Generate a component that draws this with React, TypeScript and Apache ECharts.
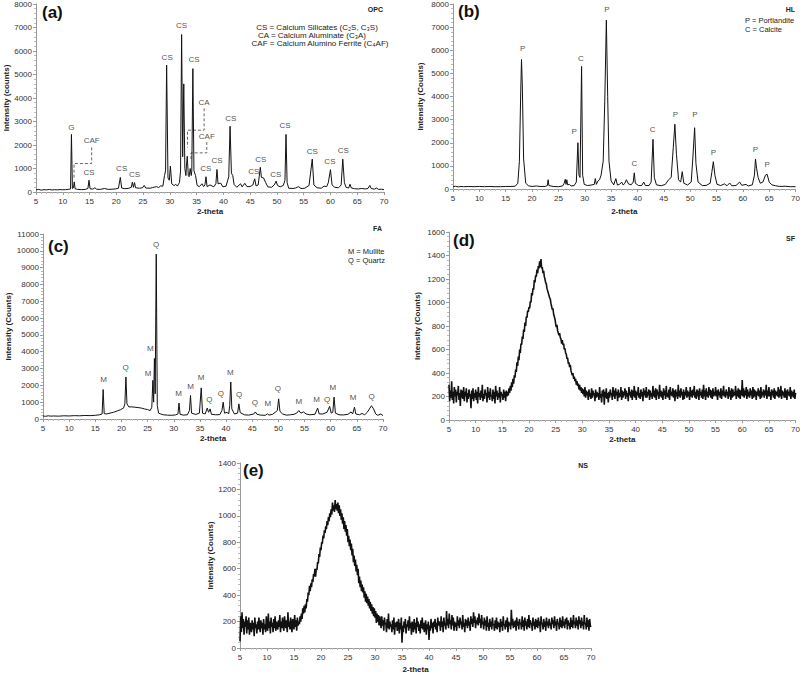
import React, { useEffect, useRef } from 'react';
import * as echarts from 'echarts';

const FONT = '"Liberation Sans", Arial, sans-serif';

// ---------- (a) OPC : [2-theta, counts]
const opcPoints: number[][] = [
  [5,90],[5.5,110],[6,80],[6.5,100],[7,90],[7.5,110],[8,85],[8.5,100],[9,90],[9.5,105],[10,95],[10.5,100],[11,110],[11.45,130],[11.62,2450],[11.8,150],[12.0,180],[12.15,430],[12.3,140],[12.8,110],[13.5,100],[14.2,110],[14.7,150],[14.9,500],[15.1,140],[15.6,120],[16.0,180],[16.3,120],[17,110],[17.8,150],[18.5,110],[19.2,120],[19.8,130],[20.4,160],[20.75,620],[21.0,170],[21.6,140],[22.2,150],[22.8,200],[23.0,420],[23.2,200],[23.4,400],[23.6,180],[24.3,160],[24.9,180],[25.2,280],[25.5,170],[26.3,160],[26.8,190],[27.5,230],[27.9,190],[28.3,260],[28.7,250],[29.0,700],[29.2,900],[29.4,5400],[29.65,600],[29.9,500],[30.1,1100],[30.35,350],[30.8,270],[31.1,330],[31.4,250],[31.8,400],[32.0,900],[32.2,6700],[32.4,1500],[32.6,4600],[32.8,1000],[33.0,700],[33.1,1100],[33.25,1520],[33.45,700],[33.6,650],[33.8,1000],[34.0,700],[34.1,900],[34.3,5250],[34.5,900],[34.8,700],[35.1,280],[35.5,230],[36.0,350],[36.3,230],[36.55,300],[36.75,650],[36.95,230],[37.5,300],[38.2,220],[38.6,350],[38.8,960],[39.0,350],[39.5,380],[39.9,220],[40.5,250],[41.0,650],[41.25,2800],[41.5,800],[41.75,700],[42.0,320],[42.5,200],[43.2,350],[43.5,220],[44.0,370],[44.4,230],[45.0,230],[45.5,300],[45.85,560],[46.1,260],[46.5,300],[46.9,1050],[47.1,620],[47.5,600],[47.9,400],[48.3,220],[49.0,200],[49.5,300],[49.85,460],[50.1,280],[50.6,220],[51.2,280],[51.5,500],[51.7,2450],[51.9,400],[52.2,160],[53,150],[53.5,170],[54.0,230],[54.5,150],[55.2,160],[56.0,280],[56.6,1400],[56.9,300],[57.5,180],[58.3,160],[58.8,250],[59.3,230],[59.6,400],[60.0,950],[60.3,300],[60.8,200],[61.5,180],[62.0,300],[62.3,1400],[62.6,400],[62.9,200],[63.4,170],[63.65,330],[63.9,170],[64.5,140],[65.2,130],[65.8,150],[66.5,130],[67.0,150],[67.35,280],[67.6,150],[68.2,120],[68.6,170],[69.0,110],[69.5,120],[70,100]
];
const opcLabels: [number, number, string][] = [
  [11.6,2750,'G'],[15.4,2180,'CAF'],[14.9,810,'CS'],[21.0,1000,'CS'],[23.4,755,'CS'],[29.5,5740,'CS'],[32.2,7075,'CS'],[34.5,5620,'CS'],[36.4,3800,'CA'],[36.9,2380,'CAF'],[36.7,1000,'CS'],[38.8,1350,'CS'],[41.4,3130,'CS'],[45.7,855,'CS'],[47.0,1380,'CS'],[49.8,755,'CS'],[51.5,2850,'CS'],[56.6,1710,'CS'],[59.9,1280,'CS'],[62.4,1780,'CS']
];
const opcCallouts: number[][][] = [
  [[15.4,1900],[15.4,1210],[12.1,1210],[12.1,600]],
  [[36.4,3560],[36.4,2630],[33.3,2630],[33.3,1900]],
  [[36.9,2130],[36.9,1665],[33.95,1665],[33.95,1400]],
];

// ---------- (b) HL
const hlPoints: number[][] = [
  [5,100],[5.5,120],[6,90],[6.5,110],[7,100],[8,110],[9,100],[10,110],[11,100],[12,110],[13,100],[14,100],[15,110],[16,110],[16.8,120],[17.3,250],[17.6,1200],[17.85,4200],[18.0,5600],[18.15,4500],[18.4,1300],[18.8,250],[19.3,140],[20,110],[20.8,130],[21.5,110],[22.5,110],[22.9,150],[23.05,400],[23.2,150],[24,110],[25,100],[25.8,130],[26.1,250],[26.3,420],[26.45,200],[26.6,400],[26.75,180],[27.1,200],[27.4,130],[28.0,150],[28.4,300],[28.7,2000],[28.9,600],[29.1,500],[29.4,5300],[29.6,600],[29.9,200],[30.5,150],[31.2,170],[31.8,200],[32.0,450],[32.2,200],[32.5,350],[32.8,400],[33.1,600],[33.5,1200],[33.8,3800],[34.1,7300],[34.35,4000],[34.6,1200],[35.0,350],[35.5,180],[35.9,450],[36.2,170],[36.6,200],[37.0,300],[37.3,170],[37.6,250],[37.9,400],[38.3,220],[38.8,180],[39.2,300],[39.4,700],[39.6,250],[40.2,150],[40.8,150],[41.2,300],[41.5,150],[42.2,150],[42.6,300],[42.95,2150],[43.2,500],[43.6,180],[44.5,140],[45.3,200],[45.9,400],[46.4,500],[46.8,1800],[47.1,2800],[47.4,1500],[47.8,400],[48.2,300],[48.5,750],[48.8,250],[49.5,170],[50.2,300],[50.5,1300],[50.85,2650],[51.1,1100],[51.5,300],[52.3,150],[53.0,150],[53.8,250],[54.1,700],[54.4,1180],[54.7,600],[55.1,200],[55.8,150],[56.5,220],[57.0,140],[57.5,260],[57.9,140],[58.7,150],[59.4,300],[59.8,160],[60.6,200],[61.0,130],[61.8,180],[62.2,600],[62.4,1300],[62.6,900],[62.9,500],[63.3,250],[63.8,300],[64.3,600],[64.6,640],[65.0,300],[65.5,180],[66.2,140],[67,110],[68,120],[69,100],[70,100]
];
const hlLabels: [number, number, string][] = [
  [18.2,6090,'P'],[29.25,5660,'C'],[34.2,7750,'P'],[28.0,2480,'P'],[39.4,1110,'C'],[42.9,2580,'C'],[47.2,3230,'P'],[50.9,3230,'P'],[54.4,1600,'P'],[62.4,1690,'P'],[64.6,1040,'P']
];

// ---------- (c) FA
const faPoints: number[][] = [
  [5,180],[5.5,160],[6,190],[6.5,170],[7,180],[8,170],[9,190],[10,180],[11,200],[12,190],[13,210],[14,200],[15,220],[15.8,250],[16.3,300],[16.5,1750],[16.7,320],[17.2,300],[17.8,350],[18.5,400],[19.2,480],[19.8,550],[20.4,650],[20.65,900],[20.85,2500],[21.05,900],[21.4,720],[22,720],[22.6,700],[23.2,680],[23.8,650],[24.4,600],[25.0,560],[25.5,500],[25.8,700],[26.0,2300],[26.15,1000],[26.3,3600],[26.45,1500],[26.65,9800],[26.85,800],[27.1,350],[27.5,300],[28,250],[28.8,230],[29.5,220],[30.3,240],[30.8,300],[31.0,950],[31.2,280],[31.8,230],[32.6,250],[33.0,500],[33.2,1400],[33.4,350],[34.2,270],[34.9,350],[35.25,1850],[35.5,350],[36.0,300],[36.4,650],[36.65,400],[36.95,600],[37.2,280],[38.0,250],[38.8,260],[39.2,500],[39.45,1000],[39.7,350],[40.2,400],[40.5,300],[40.7,800],[40.9,2200],[41.1,600],[41.6,300],[42.2,350],[42.45,900],[42.7,380],[43.5,250],[44.3,230],[45.3,300],[45.6,420],[45.9,280],[46.6,230],[47.5,220],[47.9,310],[48.2,230],[48.9,280],[49.4,400],[49.8,500],[50.05,1200],[50.3,450],[50.8,300],[51.5,230],[52.3,250],[53.0,280],[53.5,350],[53.9,500],[54.3,350],[54.8,420],[55.3,300],[56.0,250],[57.0,280],[57.5,650],[57.8,300],[58.5,300],[59.3,400],[59.8,750],[60.1,350],[60.4,400],[60.65,1300],[60.9,350],[61.6,250],[62.4,240],[63.3,280],[63.9,420],[64.2,300],[64.55,700],[64.8,300],[65.5,250],[66.0,330],[66.5,250],[67.0,400],[67.4,600],[67.8,790],[68.2,600],[68.6,300],[69.0,220],[69.6,300],[70,200]
];
const faLabels: [number, number, string][] = [
  [16.6,2320,'M'],[20.8,3060,'Q'],[25.1,2720,'M'],[25.5,4170,'M'],[26.6,10400,'Q'],[30.9,1530,'M'],[33.2,1930,'M'],[35.2,2460,'M'],[36.8,1130,'Q'],[39.0,1490,'Q'],[40.8,2780,'M'],[42.5,1430,'Q'],[45.5,990,'Q'],[48.0,930,'M'],[49.9,1790,'Q'],[53.9,1070,'M'],[57.3,1170,'M'],[59.3,1170,'Q'],[60.4,1870,'M'],[64.3,1250,'M'],[67.8,1330,'Q']
];

// ---------- (d) SF : counts every 0.125 deg from 5 to 70 (one row per degree)
const SCAN_START = 5;
const SCAN_STEP = 0.125;
const sfCounts: number[] = [
  300,160,250,190,330,170,240,140,
  280,200,260,150,240,210,290,170,
  230,120,260,190,250,180,280,160,
  240,200,270,150,230,180,260,200,
  220,100,250,180,270,160,230,190,
  260,170,240,140,280,200,230,170,
  250,190,300,160,220,180,260,210,
  230,150,280,190,240,170,270,200,
  210,160,260,180,240,140,290,200,
  250,170,230,190,280,150,240,210,
  220,170,260,190,240,160,250,200,
  240,210,270,230,290,250,320,280,
  350,310,380,360,430,410,490,460,
  540,510,600,570,650,640,710,690,
  770,750,830,800,880,870,930,920,
  960,950,1010,1000,1080,1060,1120,1110,
  1190,1170,1230,1220,1280,1250,1310,1290,
  1350,1300,1370,1290,1300,1250,1270,1220,
  1200,1170,1160,1120,1120,1080,1080,1040,
  1030,990,990,940,950,900,900,860,
  820,790,810,760,760,720,740,700,
  690,650,680,640,650,600,610,570,
  560,520,530,480,490,450,470,420,
  420,380,400,350,370,330,350,300,
  330,290,310,260,300,250,280,230,
  270,220,260,200,280,190,250,210,
  240,170,260,200,230,180,270,190,
  250,210,230,160,260,190,240,200,
  230,170,280,190,220,150,250,200,
  260,130,240,190,270,180,230,150,
  240,190,260,210,230,170,280,200,
  250,180,270,210,240,160,260,190,
  230,200,280,170,250,190,240,210,
  270,180,250,200,230,160,280,210,
  240,190,260,170,250,200,290,190,
  250,170,240,210,280,190,230,180,
  260,200,240,160,270,210,250,190,
  280,190,240,210,260,170,250,200,
  230,180,290,200,250,190,270,170,
  260,210,240,180,300,200,250,190,
  240,170,270,210,250,180,290,200,
  230,190,260,170,280,210,240,200,
  270,190,250,160,260,200,240,180,
  300,200,250,190,270,210,240,170,
  260,180,240,210,280,190,250,200,
  240,170,280,200,250,190,260,210,
  290,190,240,180,260,200,250,170,
  270,210,240,190,260,180,300,200,
  250,170,270,200,240,190,280,210,
  260,190,250,180,270,200,240,210,
  280,200,250,170,260,210,240,190,
  270,180,250,210,290,200,240,190,
  260,210,240,180,280,200,250,170,
  270,190,260,200,240,210,290,180,
  250,200,270,190,260,180,250,210,
  340,200,270,190,250,210,280,180,
  260,200,240,190,270,210,250,180,
  280,190,260,200,250,170,240,210,
  270,200,250,180,280,190,240,210,
  260,190,250,210,300,180,250,200,
  280,200,240,170,260,210,250,190,
  270,180,250,210,240,200,280,190,
  260,200,290,180,250,210,240,190,
  270,190,250,170,260,210,240,200,
  280,180,250,200,240,190,260,180,
  230
];

// ---------- (e) NS : counts every 0.125 deg from 5 to 70 (one row per degree)
const nsCounts: number[] = [
  50,240,120,270,150,220,100,200,
  160,240,110,210,140,230,100,190,
  170,120,210,140,190,90,230,150,
  180,110,200,140,230,160,120,210,
  150,190,100,220,140,180,120,240,
  170,130,260,150,200,110,230,160,
  190,120,220,150,240,130,200,170,
  140,210,160,250,120,200,150,230,
  170,130,240,180,150,210,120,270,
  160,200,140,230,170,120,220,180,
  140,250,160,210,130,230,170,200,
  180,240,200,260,220,300,260,320,
  270,330,300,370,350,420,400,470,
  430,490,460,520,500,560,540,600,
  540,600,590,650,640,710,690,760,
  740,800,790,850,830,890,870,920,
  900,960,930,990,960,1020,990,1050,
  1010,1100,1040,1080,1030,1120,1050,1090,
  1040,1100,1020,1080,1000,1050,970,1020,
  940,990,900,960,880,930,850,900,
  800,850,770,820,740,790,700,750,
  650,700,620,670,580,630,550,600,
  490,540,460,510,430,480,420,460,
  380,430,350,410,340,390,320,370,
  300,350,280,330,260,310,240,300,
  230,280,190,260,200,250,170,240,
  200,150,240,170,210,130,230,180,
  190,120,220,150,260,140,200,160,
  180,120,210,140,230,100,190,160,
  200,130,170,220,110,190,140,230,
  40,170,120,200,150,220,110,180,
  160,210,130,240,150,190,100,200,
  170,120,220,140,190,110,230,160,
  200,130,180,110,210,150,230,140,
  190,120,170,210,100,180,140,200,
  60,170,130,220,150,190,110,200,
  160,220,140,190,120,230,170,200,
  180,130,240,160,200,120,230,170,
  190,140,280,170,220,150,260,180,
  210,140,250,170,230,130,200,160,
  190,130,240,170,210,150,230,180,
  200,140,250,160,190,120,220,170,
  210,150,230,170,200,130,240,180,
  220,160,270,190,240,150,210,180,
  230,170,260,190,220,150,250,180,
  200,140,230,170,210,130,240,160,
  190,130,220,160,200,140,230,170,
  180,130,210,150,230,140,200,160,
  190,120,220,160,200,130,240,170,
  180,140,210,160,230,120,200,170,
  190,140,290,170,220,150,200,160,
  210,130,230,170,200,140,220,180,
  190,140,240,160,210,130,230,170,
  200,140,220,160,250,150,210,180,
  190,130,230,170,200,140,220,160,
  210,150,230,170,200,120,240,180,
  190,140,220,160,200,130,230,170,
  200,150,220,170,190,140,230,180,
  210,150,240,170,200,130,220,180,
  190,140,230,160,210,150,240,170,
  200,150,220,180,230,140,210,170,
  190,140,230,160,210,150,250,180,
  200,150,230,170,210,140,240,180,
  210,150,230,170,200,140,250,180,
  190,140,230,160,210,130,220,170,
  160
];

const yMax = [8000, 8000, 11000, 1600, 1400];
const yStep = [1000, 1000, 1000, 200, 200];
const yNames = ['Intensity (counts)', 'Intensity (Counts)', 'Intensity (Counts)', 'Intensity (Counts)', 'Intensity (Counts)'];
const panelTags = ['(a)', '(b)', '(c)', '(d)', '(e)'];
const sampleNames = ['OPC', 'HL', 'FA', 'SF', 'NS'];

export default function App() {
  const ref = useRef<HTMLDivElement>(null);
  useEffect(() => {
    const chart = echarts.init(ref.current!, null, { renderer: 'svg' });

    const grids = [
      { left: 36, top: 4, width: 348, height: 188 },
      { left: 453, top: 4, width: 343, height: 185 },
      { left: 43, top: 234, width: 340, height: 185 },
      { left: 449, top: 232, width: 350, height: 188 },
      { left: 240, top: 463, width: 351, height: 185 },
    ];
    const yNameGap = [25, 29, 31, 28, 26];
    const xNameGap = [15, 18, 15, 15, 17];
    const axisColor = '#9a9a9a';
    const labelColor = '#333';

    const xAxes = grids.map((_, i) => ({
      type: 'value', gridIndex: i, min: 5, max: 70, interval: 5,
      name: '2-theta', nameLocation: 'middle', nameGap: xNameGap[i],
      nameTextStyle: { fontFamily: FONT, fontSize: 8, fontWeight: 'bold', color: '#222' },
      axisLine: { show: true, onZero: false, lineStyle: { color: axisColor, width: 1 } },
      axisTick: { show: true, length: 3, lineStyle: { color: axisColor } },
      minorTick: { show: true, splitNumber: 5, length: 2, lineStyle: { color: '#bbb' } },
      axisLabel: { fontFamily: FONT, fontSize: 8, color: labelColor, margin: 5 },
      splitLine: { show: false },
    }));
    const yAxes = grids.map((_, i) => ({
      type: 'value', gridIndex: i, min: 0, max: yMax[i], interval: yStep[i],
      name: yNames[i], nameLocation: 'middle', nameGap: yNameGap[i],
      nameTextStyle: { fontFamily: FONT, fontSize: 8, fontWeight: 'bold', color: '#222' },
      axisLine: { show: true, lineStyle: { color: axisColor, width: 1 } },
      axisTick: { show: true, length: 3, lineStyle: { color: axisColor } },
      minorTick: { show: true, splitNumber: 5, length: 2, lineStyle: { color: '#bbb' } },
      axisLabel: { fontFamily: FONT, fontSize: 8, color: labelColor, margin: 4, formatter: (v: number) => String(v) },
      splitLine: { show: false },
    }));

    const scan = (arr: number[]) => arr.map((v, k) => [SCAN_START + k * SCAN_STEP, v]);
    const lineSeries = (i: number, data: number[][], w: number) => ({
      type: 'line', xAxisIndex: i, yAxisIndex: i, data, showSymbol: false, symbol: 'none',
      lineStyle: { color: '#111', width: w }, itemStyle: { color: '#111' }, silent: true, animation: false,
    });
    const labelSeries = (i: number, labels: [number, number, string][]) => ({
      type: 'scatter', xAxisIndex: i, yAxisIndex: i, symbolSize: 0, silent: true,
      itemStyle: { color: '#222' },
      data: labels.map(([x, y, t]) => ({ value: [x, y], name: t })),
      label: { show: true, position: 'inside', formatter: '{b}', fontFamily: FONT, fontSize: 8, color: '#222' },
    });

    const text = (x: number, y: number, t: string, opts: any = {}) => ({
      type: 'text', x, y, silent: true,
      style: { text: t, fontFamily: FONT, fontSize: 8, fill: '#222', textAlign: 'left', textVerticalAlign: 'middle', ...opts },
    });

    const tagPos = [[42, 12.5], [458, 11.5], [48, 246], [453, 240.5], [243, 470.5]];
    const namePos = [[383, 9.5], [795, 9.5], [382, 228], [795, 238], [588, 465]];

    const graphics: any[] = [];
    tagPos.forEach(([x, y], i) => graphics.push(text(x, y, panelTags[i], { fontSize: 17, fontWeight: 'bold', fill: '#111' })));
    namePos.forEach(([x, y], i) => graphics.push(text(x, y, sampleNames[i], { fontSize: 7, fontWeight: 'bold', textAlign: 'right' })));
    graphics.push(text(317, 27.5, 'CS = Calcium Silicates (C\u2082S, C\u2083S)', { textAlign: 'center' }));
    graphics.push(text(312, 35.3, 'CA = Calcium Aluminate (C\u2083A)', { textAlign: 'center' }));
    graphics.push(text(320, 43.3, 'CAF = Calcium Alumino Ferrite (C\u2084AF)', { textAlign: 'center' }));
    graphics.push(text(745, 20.5, 'P = Portlandite', { fontSize: 7.5 }));
    graphics.push(text(745, 29.3, 'C = Calcite', { fontSize: 7.5 }));
    graphics.push(text(348, 251, 'M = Mullite', { fontSize: 7.5 }));
    graphics.push(text(348, 260, 'Q = Quartz', { fontSize: 7.5 }));

    const option: any = {
      animation: false,
      backgroundColor: '#fff',
      grid: grids.map(g => ({ ...g, containLabel: false })),
      xAxis: xAxes,
      yAxis: yAxes,
      series: [
        lineSeries(0, opcPoints, 1),
        lineSeries(1, hlPoints, 1),
        lineSeries(2, faPoints, 1),
        lineSeries(3, scan(sfCounts), 1.6),
        lineSeries(4, scan(nsCounts), 1.6),
        labelSeries(0, opcLabels),
        labelSeries(1, hlLabels),
        labelSeries(2, faLabels),
        {
          type: 'lines', coordinateSystem: 'cartesian2d', xAxisIndex: 0, yAxisIndex: 0, polyline: true, silent: true,
          symbol: ['none', 'arrow'], symbolSize: 5,
          lineStyle: { color: '#666', width: 1, type: [3, 2], opacity: 1 },
          data: opcCallouts.map(c => ({ coords: c })),
        },
      ],
      graphic: graphics,
    };
    chart.setOption(option);
    return () => chart.dispose();
  }, []);
  return <div ref={ref} style={{ position: 'absolute', left: 0, top: 0, width: 803, height: 677, background: '#fff' }} />;
}
